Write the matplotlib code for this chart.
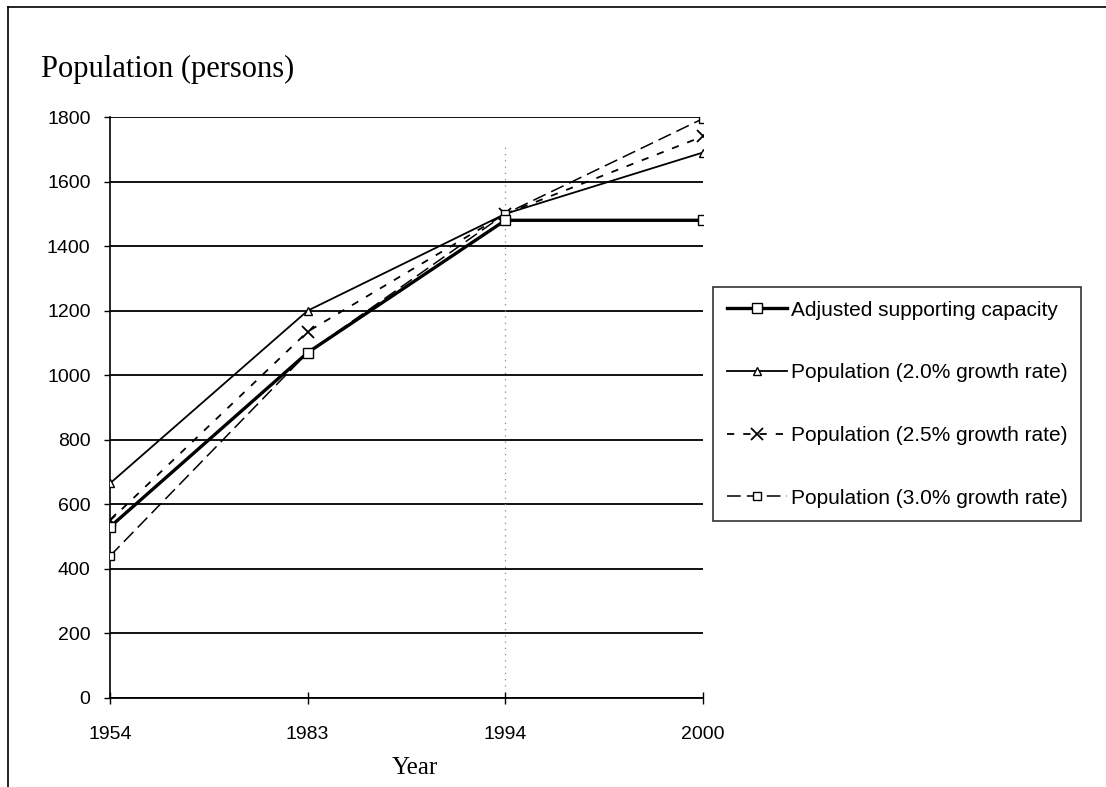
import matplotlib.pyplot as plt
from matplotlib.lines import Line2D

years = ['1954', '1983', '1994', '2000']
capacity = [530, 1070, 1480, 1480]
pop_20 = [665, 1200, 1500, 1690]
pop_25 = [550, 1135, 1500, 1740]
pop_30 = [440, 1070, 1500, 1795]
y_ticks = [0, 200, 400, 600, 800, 1000, 1200, 1400, 1600, 1800]

plt.rcParams['font.family'] = ['Liberation Sans', 'DejaVu Sans']

fig = plt.figure(figsize=(11.06, 7.87), dpi=100)
ax = fig.add_axes([110 / 1106, 1 - 698 / 787, (703 - 110) / 1106, (698 - 117) / 787])

x = list(range(len(years)))

# horizontal gridlines and the dotted marker at 1994
for t in y_ticks:
    ax.axhline(t, color='black', lw=1.3, zorder=1)
ax.axvline(2, ymin=0.02, ymax=0.95, color='#888888', lw=0.9, ls=(0, (1, 4)), zorder=1)

ax.plot(x, capacity, color='black', lw=2.4, marker='s', ms=7.5, mfc='white',
        mec='black', mew=1.0, label='Adjusted supporting capacity', zorder=5)
ax.plot(x, pop_20, color='black', lw=1.3, marker='^', ms=6, mfc='white',
        mec='black', mew=1.0, label='Population (2.0% growth rate)', zorder=4)
ax.plot(x, pop_25, color='black', lw=1.3, ls=(0, (4, 5)), marker='x', ms=8,
        mew=1.3, label='Population (2.5% growth rate)', zorder=4)
ax.plot(x, pop_30, color='black', lw=1.1, ls=(0, (9, 4)), marker='s', ms=6,
        mfc='white', mec='black', mew=1.0, label='Population (3.0% growth rate)', zorder=4)

ax.set_xlim(0, 3)
ax.set_ylim(0, 1800)
ax.set_xticks(x)
ax.set_xticklabels(years)
ax.set_yticks(y_ticks)
ax.tick_params(axis='both', labelsize=14, direction='out', length=4, width=1)
ax.tick_params(axis='y', pad=10)
ax.tick_params(axis='x', direction='inout', length=8, pad=16)
for side in ['top', 'right']:
    ax.spines[side].set_visible(False)
ax.spines['left'].set_linewidth(1.2)
ax.spines['bottom'].set_linewidth(1.3)

fig.text(41 / 1106, 1 - 77 / 787, 'Population (persons)', family='Liberation Serif',
         fontsize=22, va='baseline', ha='left')
fig.text(415 / 1106, 1 - 768 / 787, 'Year', family='Liberation Serif',
         fontsize=18, va='center', ha='center')

leg = ax.legend(loc='upper left', bbox_to_anchor=(713 / 1106, 1 - 287 / 787),
                bbox_transform=fig.transFigure, fontsize=15, frameon=True,
                fancybox=False, edgecolor='black', labelspacing=2.1,
                handlelength=2.9, handletextpad=0.2, borderpad=0.65,
                borderaxespad=0)
leg.get_frame().set_linewidth(1.2)

# outer frame lines along the top and left edges
fig.add_artist(Line2D([8 / 1106, 1], [1 - 7 / 787, 1 - 7 / 787], color='black', lw=1.2))
fig.add_artist(Line2D([8 / 1106, 8 / 1106], [0, 1 - 7 / 787], color='black', lw=1.2))

fig.savefig('out.png', dpi=100)
